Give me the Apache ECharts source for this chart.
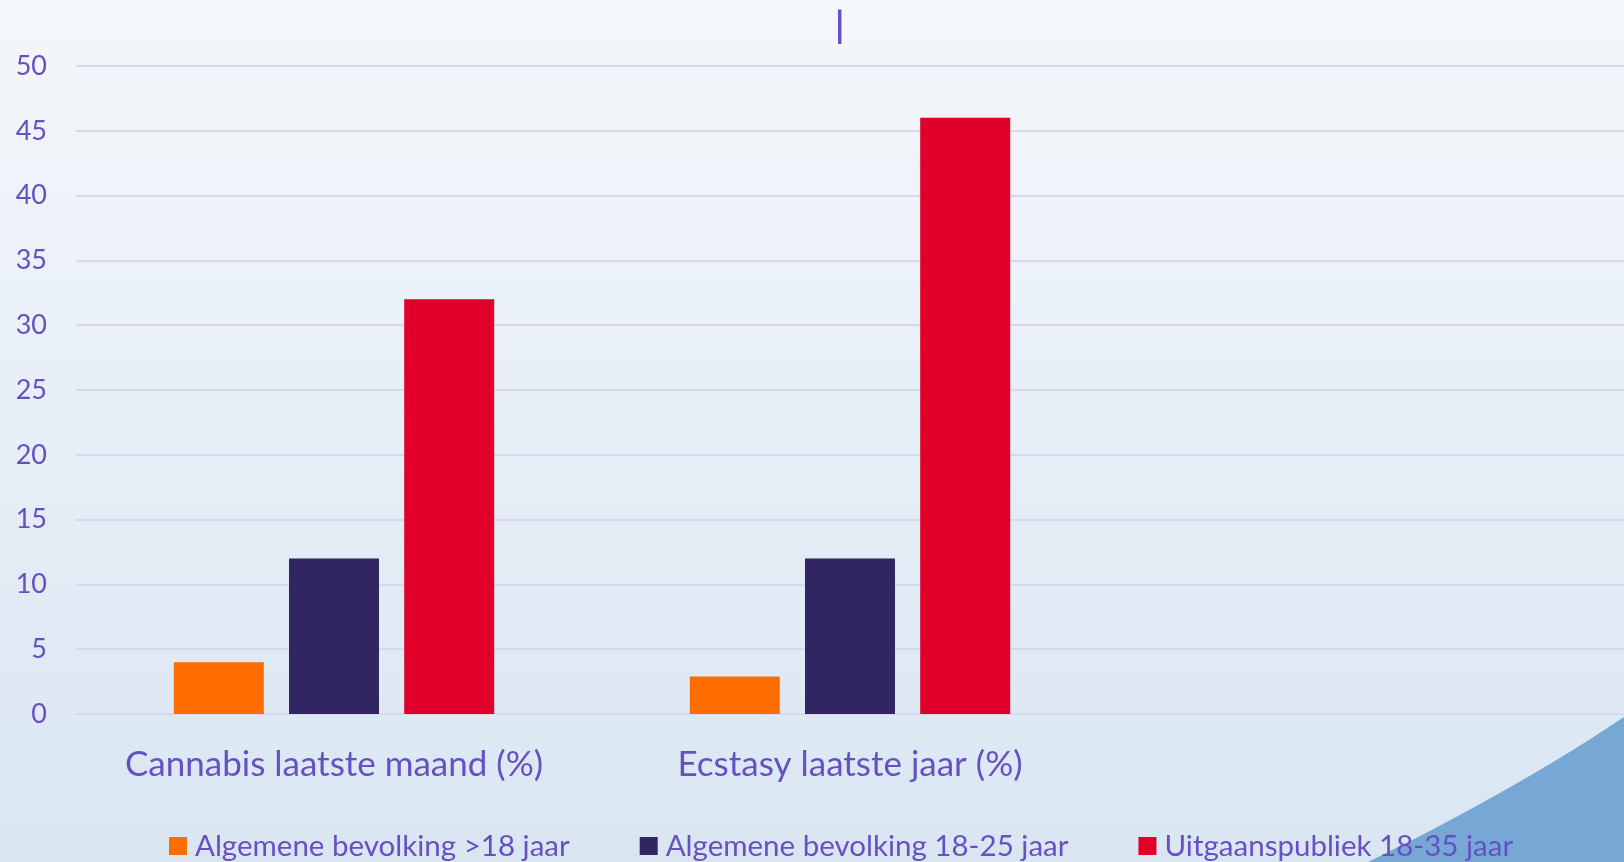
<!DOCTYPE html>
<html>
<head>
<meta charset="utf-8">
<title>Middelengebruik</title>
<script src="https://cdn.jsdelivr.net/npm/echarts@6/dist/echarts.min.js"></script>
<style>
    html, body {margin: 0; padding: 0; width: 100%; height: 100%;}
    body {background: linear-gradient(180deg, #f4f7fb 0%, #d9e6f2 100%);}
    #main {width: 1624px; height: 862px;}
</style>
</head>
<body>
<div id="main"></div>
<script>
    var categories = ['Cannabis laatste maand (%)', 'Ecstasy laatste jaar (%)', ''];
    var seriesNames = ['Algemene bevolking >18 jaar', 'Algemene bevolking 18-25 jaar', 'Uitgaanspubliek 18-35 jaar'];
    var algemeen18 = [4, 2.9, null];
    var algemeen1825 = [12, 12, null];
    var uitgaans1835 = [32, 46, null];
    var yTicks = {min: 0, max: 50, interval: 5};

    var purple = '#6650c2';
    var font = 'Lato';

    var chart = echarts.init(document.getElementById('main'));
    window.addEventListener("resize", function () {
        chart.resize()
    });

    function bar(name, data, color) {
        return {
            name: name,
            type: 'bar',
            data: data,
            barWidth: 90,
            barGap: '28%',
            itemStyle: {color: color}
        };
    }

    // blue corner swoosh (slide decoration), quadratic curve
    var swoosh = [];
    for (var t = 0; t <= 1.0001; t += 0.05) {
        var u = 1 - t;
        swoosh.push([u * u * 1368 + 2 * u * t * 1515 + t * t * 1624, u * u * 862 + 2 * u * t * 790 + t * t * 717]);
    }
    swoosh.push([1624, 862]);

    chart.setOption({
        title: {
            text: '|', left: 830, top: 3,
            textStyle: {color: purple, fontFamily: font, fontSize: 36, fontWeight: 'bold'}
        },
        legend: {
            left: 164, top: 826,
            itemWidth: 18, itemHeight: 18, itemGap: 70,
            icon: 'rect',
            textStyle: {color: purple, fontFamily: font, fontSize: 29.5, padding: [0, 0, 0, 3]},
            data: seriesNames
        },
        grid: {left: 76, right: 0, top: 66, bottom: 148},
        xAxis: {
            type: 'category',
            data: categories,
            axisLine: {show: false},
            axisTick: {show: false},
            axisLabel: {color: purple, fontFamily: font, fontSize: 35, margin: 33, interval: 0}
        },
        yAxis: {
            type: 'value',
            min: yTicks.min, max: yTicks.max, interval: yTicks.interval,
            axisLine: {show: false},
            axisTick: {show: false},
            axisLabel: {color: purple, fontFamily: font, fontSize: 27, margin: 29},
            splitLine: {lineStyle: {color: '#dcd5f0', width: 2}}
        },
        graphic: [{
            type: 'polygon',
            z: -1,
            shape: {points: swoosh},
            style: {fill: '#76a7d5'}
        }],
        series: [
            bar(seriesNames[0], algemeen18, '#ff6d00'),
            bar(seriesNames[1], algemeen1825, '#312562'),
            bar(seriesNames[2], uitgaans1835, '#e0002a')
        ]
    });
</script>
</body>
</html>
